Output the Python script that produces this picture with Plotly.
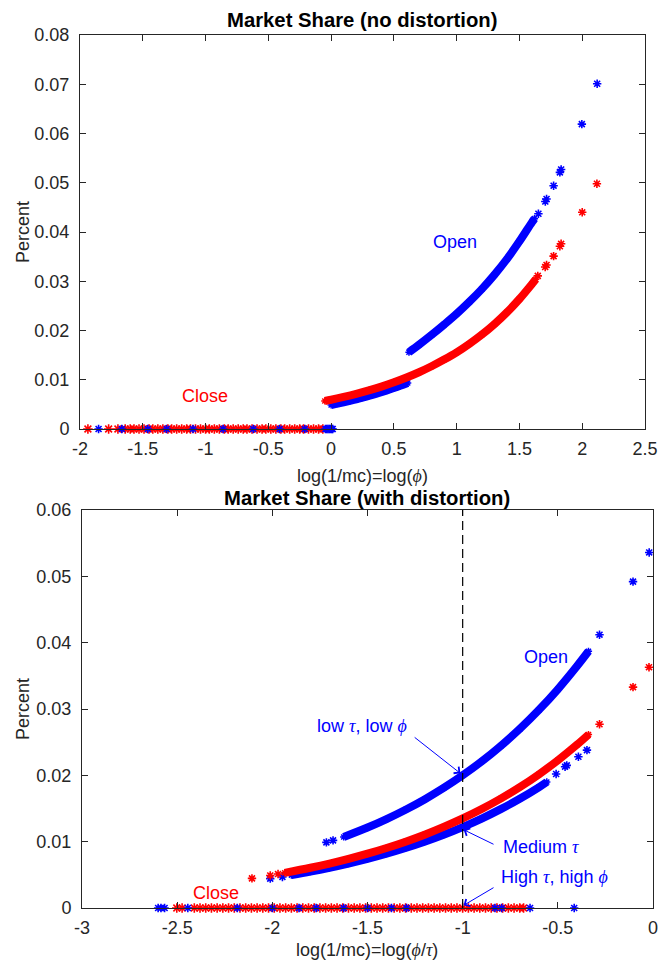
import plotly.graph_objects as go

# ---------------- data: top panel (no distortion) ----------------
top_blue_low_x = [0.00, 0.05, 0.10, 0.15, 0.20, 0.25, 0.30, 0.35, 0.40, 0.45, 0.50, 0.55, 0.61]
top_blue_low_y = [0.00487, 0.00514, 0.00542, 0.00572, 0.00603, 0.00636, 0.00671, 0.00708, 0.00747, 0.00788, 0.00831, 0.00877, 0.00935]

top_blue_high_x = [0.62, 0.70, 0.80, 0.90, 1.00, 1.10, 1.20, 1.30, 1.40, 1.50, 1.60, 1.62]
top_blue_high_y = [0.0156, 0.0171, 0.0191, 0.0212, 0.0234, 0.0258, 0.0284, 0.0313, 0.0345, 0.0381, 0.0420, 0.0427]

top_blue_sparse_x = [1.651, 1.706, 1.716, 1.772, 1.822, 1.832, 1.997, 2.119]
top_blue_sparse_y = [0.0437, 0.0462, 0.0467, 0.0494, 0.0521, 0.0527, 0.0619, 0.0701]

top_red_x = [-0.05, 0.00, 0.10, 0.20, 0.30, 0.40, 0.50, 0.60, 0.70, 0.80, 0.90, 1.00, 1.10, 1.20, 1.30, 1.40, 1.50, 1.60, 1.63]
top_red_y = [0.00569, 0.00594, 0.00651, 0.00713, 0.00783, 0.00860, 0.00947, 0.01044, 0.01152, 0.01273, 0.01409, 0.01556, 0.01726, 0.01915, 0.02128, 0.02369, 0.0264, 0.02945, 0.0304]

top_red_sparse_x = [1.646, 1.705, 1.716, 1.772, 1.822, 1.832, 2.000, 2.117]
top_red_sparse_y = [0.0311, 0.0329, 0.0333, 0.0351, 0.0371, 0.0376, 0.0440, 0.0498]

# firms that close (share = 0)
top_red_close_x = [-1.937, -1.772, -1.698, -1.64, -1.60, -1.57, -1.53, -1.49, -1.45, -1.42, -1.38,
                   -1.34, -1.30, -1.27, -1.23, -1.19, -1.15, -1.12, -1.08, -1.04, -1.00, -0.97,
                   -0.93, -0.89, -0.85, -0.82, -0.78, -0.74, -0.70, -0.67, -0.63, -0.59, -0.55,
                   -0.52, -0.48, -0.44, -0.40, -0.37, -0.33, -0.29, -0.25, -0.22, -0.18, -0.14,
                   -0.10, -0.066]
top_blue_close_x = [-1.852, -1.667, -1.46, -1.31, -1.10, -0.86, -0.62, -0.41, -0.21,
                    -0.045, -0.035, -0.025, -0.015, -0.005, 0.005, 0.013]

# ---------------- data: bottom panel (with distortion) ----------------
bot_blue_high_x = [-1.625, -1.5, -1.4, -1.3, -1.2, -1.1, -1.0, -0.9, -0.8, -0.7, -0.6, -0.5, -0.4, -0.339]
bot_blue_high_y = [0.01071, 0.01213, 0.01341, 0.01482, 0.01637, 0.01810, 0.0200, 0.0221, 0.02443, 0.0270, 0.02984, 0.03297, 0.03644, 0.0387]
bot_blue_high_sparse_x = [-1.716, -1.681, -0.281, -0.105, -0.020]
bot_blue_high_sparse_y = [0.0099, 0.0102, 0.0412, 0.0492, 0.0536]

bot_red_x = [-1.935, -1.8, -1.7, -1.6, -1.5, -1.4, -1.3, -1.2, -1.1, -1.0, -0.9, -0.8, -0.7, -0.6, -0.5, -0.4, -0.339]
bot_red_y = [0.00530, 0.00607, 0.00670, 0.00741, 0.00819, 0.00905, 0.01000, 0.01105, 0.01222, 0.0135, 0.01492, 0.01649, 0.01822, 0.02014, 0.02226, 0.0246, 0.02614]
bot_red_sparse_x = [-2.107, -2.011, -1.97, -0.281, -0.105, -0.021]
bot_red_sparse_y = [0.00446, 0.00491, 0.00512, 0.0277, 0.0333, 0.0363]

bot_blue_mid_x = [-1.9, -1.8, -1.7, -1.6, -1.5, -1.4, -1.3, -1.2, -1.1, -1.0, -0.9, -0.8, -0.7, -0.6, -0.558]
bot_blue_mid_y = [0.00496, 0.00548, 0.00606, 0.00670, 0.0074, 0.00818, 0.00904, 0.00999, 0.01104, 0.0122, 0.01348, 0.0149, 0.01647, 0.0182, 0.0190]
bot_blue_mid_sparse_x = [-2.011, -1.947, -0.509, -0.462, -0.453, -0.392, -0.347]
bot_blue_mid_sparse_y = [0.00443, 0.00468, 0.0202, 0.0213, 0.0215, 0.0228, 0.0238]

bot_red_close_x = [-2.502, -2.474, -2.41, -2.38, -2.35, -2.32, -2.29, -2.26, -2.23, -2.20, -2.17,
                   -2.14, -2.11, -2.08, -2.05, -2.02, -1.99, -1.96, -1.93, -1.90, -1.87, -1.84,
                   -1.81, -1.78, -1.75, -1.72, -1.69, -1.66, -1.63, -1.60, -1.57, -1.54, -1.51,
                   -1.48, -1.45, -1.42, -1.39, -1.36, -1.33, -1.30, -1.27, -1.24, -1.21, -1.18,
                   -1.15, -1.12, -1.09, -1.06, -1.03, -1.00, -0.97, -0.94, -0.91, -0.88, -0.85,
                   -0.82, -0.79, -0.76, -0.73, -0.70, -0.68]
bot_blue_close_x = [-2.60, -2.585, -2.566, -2.444, -2.184, -2.0, -1.86, -1.77, -1.625, -1.50,
                    -1.374, -1.295, -0.83, -0.795, -0.646, -0.414]

# ---------------- tick labels ----------------
top_xticks = [-2, -1.5, -1, -0.5, 0, 0.5, 1, 1.5, 2, 2.5]
top_xtext = ["-2", "-1.5", "-1", "-0.5", "0", "0.5", "1", "1.5", "2", "2.5"]
top_yticks = [0, 0.01, 0.02, 0.03, 0.04, 0.05, 0.06, 0.07, 0.08]
top_ytext = ["0", "0.01", "0.02", "0.03", "0.04", "0.05", "0.06", "0.07", "0.08"]
bot_xticks = [-3, -2.5, -2, -1.5, -1, -0.5, 0]
bot_xtext = ["-3", "-2.5", "-2", "-1.5", "-1", "-0.5", "0"]
bot_yticks = [0, 0.01, 0.02, 0.03, 0.04, 0.05, 0.06]
bot_ytext = ["0", "0.01", "0.02", "0.03", "0.04", "0.05", "0.06"]

BLUE = "#0000FF"
RED = "#FF0000"
AX = "#262626"
FONT = "Liberation Sans, Arial, sans-serif"
W, H = 660, 969


def fx(px):
    return px / W


def fy(py):
    return 1 - py / H


fig = go.Figure()


def dense(x, y, color, xa, ya, width=8):
    fig.add_trace(go.Scatter(
        x=x, y=y, xaxis=xa, yaxis=ya, mode="lines+markers", cliponaxis=False,
        line=dict(color=color, width=width, shape="spline"),
        marker=dict(symbol="asterisk-open", size=6, color=color,
                    line=dict(color=color, width=1.5)),
        showlegend=False, hoverinfo="skip"))


def sparse(x, y, color, xa, ya, size=7):
    fig.add_trace(go.Scatter(
        x=x, y=y, xaxis=xa, yaxis=ya, mode="markers", cliponaxis=False,
        marker=dict(symbol="asterisk-open", size=size, color=color,
                    line=dict(color=color, width=1.6)),
        showlegend=False, hoverinfo="skip"))


# top panel
dense(top_blue_low_x, top_blue_low_y, BLUE, "x", "y")
dense(top_blue_high_x, top_blue_high_y, BLUE, "x", "y")
sparse(top_blue_sparse_x, top_blue_sparse_y, BLUE, "x", "y")
dense(top_red_x, top_red_y, RED, "x", "y")
sparse(top_red_sparse_x, top_red_sparse_y, RED, "x", "y")
sparse(top_red_close_x, [0] * len(top_red_close_x), RED, "x", "y", size=8)
sparse(top_blue_close_x, [0] * len(top_blue_close_x), BLUE, "x", "y", size=7)

# bottom panel
dense(bot_blue_high_x, bot_blue_high_y, BLUE, "x2", "y2")
sparse(bot_blue_high_sparse_x, bot_blue_high_sparse_y, BLUE, "x2", "y2")
dense(bot_blue_mid_x, bot_blue_mid_y, BLUE, "x2", "y2")
sparse(bot_blue_mid_sparse_x, bot_blue_mid_sparse_y, BLUE, "x2", "y2")
dense(bot_red_x, bot_red_y, RED, "x2", "y2")
sparse(bot_red_sparse_x, bot_red_sparse_y, RED, "x2", "y2")
sparse(bot_red_close_x, [0] * len(bot_red_close_x), RED, "x2", "y2", size=8)
sparse(bot_blue_close_x, [0] * len(bot_blue_close_x), BLUE, "x2", "y2", size=7)

axis_common = dict(showline=True, linecolor=AX, linewidth=1, mirror="ticks",
                   ticks="inside", ticklen=6, tickcolor=AX, tickwidth=1,
                   showgrid=False, zeroline=False, automargin=False,
                   tickfont=dict(family=FONT, size=18, color=AX))

fig.update_layout(
    width=W, height=H, autosize=False,
    margin=dict(l=0, r=0, t=0, b=0, autoexpand=False),
    paper_bgcolor="white", plot_bgcolor="white",
    xaxis=dict(domain=[fx(80), fx(645)], range=[-2, 2.5], anchor="y",
               tickmode="array", tickvals=top_xticks, ticktext=top_xtext,
               ticklabelstandoff=3, **axis_common),
    yaxis=dict(domain=[fy(429), fy(35)], range=[0, 0.08], anchor="x",
               tickmode="array", tickvals=top_yticks, ticktext=top_ytext,
               ticklabelstandoff=6, **axis_common),
    xaxis2=dict(domain=[fx(82), fx(653)], range=[-3, 0], anchor="y2",
                tickmode="array", tickvals=bot_xticks, ticktext=bot_xtext,
                ticklabelstandoff=3, **axis_common),
    yaxis2=dict(domain=[fy(908), fy(510)], range=[0, 0.06], anchor="x2",
                tickmode="array", tickvals=bot_yticks, ticktext=bot_ytext,
                ticklabelstandoff=6, **axis_common),
)

# dashed vertical line at x = -1 (bottom)
fig.add_shape(type="line", xref="x2", yref="y2", x0=-1, x1=-1, y0=0, y1=0.06,
              line=dict(color="black", width=1.2, dash="9px,5px"), layer="above")

SER = "<span style='font-family:Liberation Serif'><i>{}</i></span>"
tau = SER.format("τ")
phi = SER.format("ϕ")

ann = []


def ptext(text, px, py, size=18, bold=False, angle=0, color=AX):
    ann.append(dict(text=("<b>%s</b>" % text) if bold else text, xref="paper", yref="paper",
                    x=fx(px), y=fy(py), xanchor="center", yanchor="middle",
                    showarrow=False, textangle=angle,
                    font=dict(family=FONT, size=size, color=color)))


def dtext(text, x, y, xa, ya, color):
    ann.append(dict(text=text, xref=xa, yref=ya, x=x, y=y, xanchor="center",
                    yanchor="middle", showarrow=False,
                    font=dict(family=FONT, size=18, color=color)))


def arrow(x0, y0, x1, y1):
    ann.append(dict(text="", xref="x2", yref="y2", axref="x2", ayref="y2",
                    x=x1, y=y1, ax=x0, ay=y0, showarrow=True, arrowhead=4,
                    arrowsize=1.6, arrowwidth=1, arrowcolor=BLUE, standoff=0, startstandoff=0))


# titles and axis labels
ptext("Market Share (no distortion)", 362, 20, size=20.3, bold=True, color="black")
ptext("Market Share (with distortion)", 367, 498, size=20.3, bold=True, color="black")
ptext("log(1/mc)=log(%s)" % phi, 362, 476)
ptext("log(1/mc)=log(%s/%s)" % (phi, tau), 367, 950)
ptext("Percent", 23, 232, angle=-90)
ptext("Percent", 23, 709, angle=-90)

# in-plot labels
dtext("Open", 0.984, 0.038, "x", "y", BLUE)
dtext("Close", -1.008, 0.0066, "x", "y", RED)
dtext("Open", -0.563, 0.0379, "x2", "y2", BLUE)
dtext("low %s, low %s" % (tau, phi), -1.527, 0.0275, "x2", "y2", BLUE)
dtext("Medium %s" % tau, -0.588, 0.0092, "x2", "y2", BLUE)
dtext("High %s, high %s" % (tau, phi), -0.516, 0.0047, "x2", "y2", BLUE)
dtext("Close", -2.295, 0.0022, "x2", "y2", RED)

arrow(-1.26, 0.0259, -1.012, 0.0203)
arrow(-0.83, 0.0095, -0.995, 0.0118)
arrow(-0.83, 0.0032, -0.995, 0.0004)

fig.update_layout(annotations=ann)

# remove the browser's default 8px body margin so the figure fills the window exactly
fig.write_html("out.html",
               config={"displayModeBar": False},
               post_script="document.body.style.margin='0px';document.body.style.overflow='hidden';")
